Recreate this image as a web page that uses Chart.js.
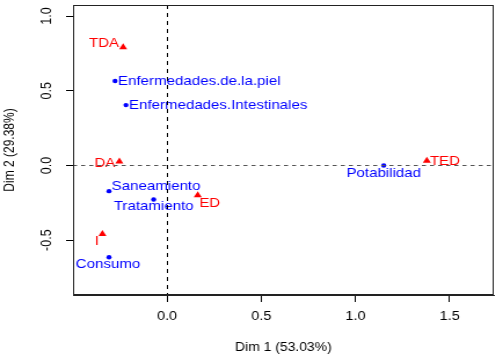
<!DOCTYPE html>
<html>
<head>
<meta charset="utf-8">
<script src="https://cdn.jsdelivr.net/npm/chart.js@4/dist/chart.umd.min.js"></script>
<style>
  html, body { margin: 0; padding: 0; background: #fff; overflow: hidden; }
  #wrap { position: absolute; left: 0; top: 0; width: 434px; height: 356px;
          transform: scaleX(1.159); transform-origin: 0 0; }
</style>
</head>
<body>
<div id="wrap"><canvas id="c"></canvas></div>
<script>
// ---- data ----
const rowNames = ['Enfermedades.de.la.piel', 'Enfermedades.Intestinales', 'Saneamiento', 'Tratamiento', 'Consumo', 'Potabilidad'];
const rowDim1  = [-0.276, -0.218, -0.308, -0.071, -0.308, 1.150];
const rowDim2  = [ 0.565,  0.404, -0.172, -0.228, -0.614, 0.000];

const colNames = ['TDA', 'DA', 'ED', 'I', 'TED'];
const colDim1  = [-0.233, -0.253, 0.163, -0.343, 1.379];
const colDim2  = [ 0.791,  0.027, -0.200, -0.458, 0.031];

const xTickValues = [0, 0.5, 1, 1.5];
const yTickValues = [-0.5, 0, 0.5, 1];
const xTitle = 'Dim 1 (53.03%)';
const yTitle = 'Dim 2 (29.38%)';

// ---- label placement (style only): [align, dx, dy] ----
const rowPlace = [['left', 2.6, 0], ['left', 2.6, 0], ['left', 2.3, -4.5], ['center', 0, 6.5], ['center', -0.9, 7.7], ['center', 0, 7.6]];
const colPlace = [['right', -3.5, -4], ['right', -3.5, 1.5], ['left', 1.3, 8], ['right', -3, 7.7], ['left', 2.6, 1]];

const FONT = "'Liberation Sans', Arial, sans-serif";

const rowPoints = rowNames.map((n, i) => ({ x: rowDim1[i], y: rowDim2[i] }));
const colPoints = colNames.map((n, i) => ({ x: colDim1[i], y: colDim2[i] }));

const labelPlugin = {
  id: 'caLabels',
  afterDatasetsDraw(chart) {
    const ctx = chart.ctx;
    const sets = [
      { names: rowNames, place: rowPlace, color: '#0000ff' },
      { names: colNames, place: colPlace, color: '#ff0000' }
    ];
    ctx.save();
    ctx.font = '13px ' + FONT;
    ctx.textBaseline = 'middle';
    sets.forEach((s, di) => {
      const meta = chart.getDatasetMeta(di);
      meta.data.forEach((pt, i) => {
        const p = s.place[i];
        ctx.fillStyle = s.color;
        ctx.textAlign = p[0];
        ctx.fillText(s.names[i], pt.x + p[1], pt.y + p[2]);
      });
    });
    ctx.restore();

    // dashed reference lines at 0
    const xs = chart.scales.x, ys = chart.scales.y, a = chart.chartArea;
    const x0 = Math.round(xs.getPixelForValue(0)) + 0.5;
    const y0 = Math.round(ys.getPixelForValue(0)) + 0.5;
    ctx.save();
    ctx.lineWidth = 1;
    ctx.strokeStyle = '#000';
    ctx.setLineDash([4, 4]);
    ctx.beginPath(); ctx.moveTo(x0, a.top); ctx.lineTo(x0, a.bottom); ctx.stroke();
    ctx.strokeStyle = '#555';
    ctx.setLineDash([3.5, 3.5]);
    ctx.beginPath(); ctx.moveTo(a.left, y0); ctx.lineTo(a.right, y0); ctx.stroke();
    ctx.restore();

    // plot box
    ctx.save();
    ctx.strokeStyle = '#222';
    ctx.lineWidth = 1;
    ctx.strokeRect(Math.round(a.left) + 0.5, Math.round(a.top) + 0.5, Math.round(a.right - a.left) - 1, Math.round(a.bottom - a.top) - 1);
    ctx.restore();
  }
};

new Chart(document.getElementById('c'), {
  type: 'scatter',
  data: {
    datasets: [
      { label: 'rows', data: rowPoints, pointStyle: 'circle', pointRadius: 2.2,
        backgroundColor: '#0000ff', borderColor: '#0000ff', borderWidth: 0, pointHoverRadius: 2.2 },
      { label: 'cols', data: colPoints, pointStyle: 'triangle', pointRadius: 4,
        backgroundColor: '#ff0000', borderColor: '#ff0000', borderWidth: 0, pointHoverRadius: 4 }
    ]
  },
  options: {
    responsive: true,
    maintainAspectRatio: false,
    animation: false,
    events: [],
    layout: { padding: { left: 0, right: 8, top: 5, bottom: 0 } },
    plugins: { legend: { display: false }, tooltip: { enabled: false } },
    scales: {
      x: {
        type: 'linear', min: -0.499, max: 1.734,
        afterBuildTicks: s => { s.ticks = xTickValues.map(v => ({ value: v })); },
        afterFit: s => { s.height = 61; s.paddingLeft = 0; s.paddingRight = 0; },
        ticks: { color: '#000', font: { family: FONT, size: 12.5 }, padding: 7.5,
                 callback: v => Number(v).toFixed(1), maxRotation: 0, minRotation: 0 },
        grid: { drawOnChartArea: false, drawTicks: true, tickLength: 7, color: '#000' },
        border: { display: true, color: '#222' },
        title: { display: true, text: xTitle, color: '#000', font: { family: FONT, size: 12 },
                 padding: { top: 0, bottom: 1 } }
      },
      y: {
        type: 'linear', min: -0.867, max: 1.074,
        afterBuildTicks: s => { s.ticks = yTickValues.map(v => ({ value: v })); },
        afterFit: s => { s.width = 63; s.paddingTop = 0; s.paddingBottom = 0; },
        ticks: { color: '#000', font: { family: FONT, size: 12.5 }, padding: 5.4, crossAlign: 'center',
                 minRotation: 90, maxRotation: 90,
                 callback: v => Number(v).toFixed(1) },
        grid: { drawOnChartArea: false, drawTicks: true, tickLength: 6, color: '#000' },
        border: { display: true, color: '#222' },
        title: { display: true, text: yTitle, color: '#000', font: { family: FONT, size: 12 },
                 padding: { top: 1.3, bottom: 0 } }
      }
    }
  },
  plugins: [labelPlugin]
});
</script>
</body>
</html>
